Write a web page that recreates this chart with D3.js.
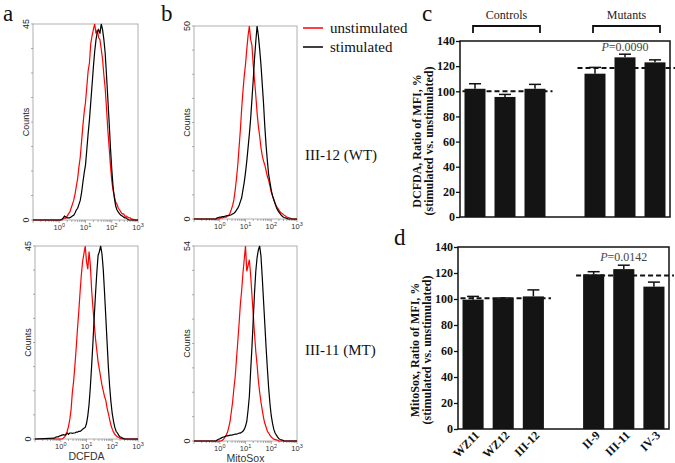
<!DOCTYPE html>
<html><head><meta charset="utf-8">
<script src="https://cdn.jsdelivr.net/npm/d3@7/dist/d3.min.js"></script>
<style>body{margin:0;background:#fff}svg{display:block}</style>
</head><body><svg id="fig" width="675" height="463"></svg>
<script>
// ---------- DATA ----------
// Flow-cytometry histograms: counts per log10 channel, channels from 10^-0.25 to 10^3 in steps of 0.05 decade
const binStartLog = -0.25, binStepLog = 0.05;
const dcfdaWT_unstim = [0,0,0,0,0,0,0, 0,0.2,0.5,0.4,0.9,1.4,1.8,2.7,3.6,4.5,5.9,7.7,9.5,12.2,14.4,18,21.6,24.8,27,30.6,34.2,36,40.5,42.3,43.7,45,42.8,43.7,41.9,41.4,39.2,36.9,33.3,30.2,25.7,20.7,16.7,12.6,9,6.8,5.4,4.1,3.6,2.7,2.3,1.8,1.4,1.4,0.9,0.9,0.7,0.5,0.5,0.2,0.2,0,0,0,0];
const dcfdaWT_stim = [0,0,0,0,0,0,0, 0.2,0.5,0.9,0.7,0.5,0.5,0.5,0.7,0.9,1.1,1.6,2.3,2.7,3.6,4.5,6.3,8.6,10.8,12.6,16.2,19.8,23,27,31,35.1,38.7,41.4,43.2,43.7,42.8,45,43.7,41.4,38.3,33.3,27.9,22.5,16.7,11.7,7.7,5,3.2,2.3,1.8,1.4,1.1,0.9,0.7,0.5,0.5,0.2,0,0,0,0,0,0,0,0];
const mitoWT_unstim = [0,0,0,0,0, 0.2,0.3,0.3,0.4,0.5,0.5,0.8,1,1.5,2.5,3.5,5,7.5,10.5,14,18.5,23,28.5,33,37,40,44,47.5,50,46.5,45,40,36,32,27.5,24,21.5,18.5,16.5,15,14,12.5,11,10,8.5,7,6,5,4,3.3,2.8,2.3,1.8,1.5,1.3,1,0.8,0.5,0.4,0.3,0.2,0,0,0,0,0];
const mitoWT_stim = [0,0,0, 0.3,0.4,0.5,0.5,0.6,0.6,0.7,0.8,0.9,0.9,1,1.1,1.3,1.5,1.8,2.3,2.8,3.5,4.5,5.5,7.5,9.5,12,15,18.5,22,26,31,36,41.5,46,50,47.5,44,40,35,30,24,19,15,11.5,9.5,7.5,6,5,4,3,2.3,1.8,1.3,0.9,0.6,0.4,0.3,0.2,0,0,0,0,0,0,0,0];
const dcfdaMT_unstim = [0,0,0,0,0,0,0, 0.2,0.5,0.9,1.8,2.9,4.5,6.8,10.8,13.5,17.1,21.2,25.7,29.7,34.2,38.3,41.4,43.2,45,41.4,39.6,43.7,40.5,34.7,30.6,27,23.4,20.7,18,16.2,14.4,12.6,11.3,9.9,9,7.2,5.9,4.5,3.2,2.3,1.6,1.1,0.8,0.5,0.4,0.2,0.1,0,0,0,0,0,0,0,0,0,0,0,0,0];
const dcfdaMT_stim = [0.2,0.4,0.5,0.5,0.7,0.8,0.9,1,0.9,1.1,1.4,1.1,1.4,1.4,1.3,1.4,1.4,1.6,1.6,1.8,1.8,2,2.3,2.5,2.7,3.6,5.4,8.1,12.2,17.1,22.5,28.4,33.8,38.7,42.8,43.7,45,43.2,39.6,34.2,28.4,22.5,16.7,12.2,8.6,5.9,4.1,2.7,1.8,1.4,0.9,0.5,0.4,0.2,0.1,0,0,0,0,0,0,0,0,0,0,0];
const mitoMT_unstim = [0,0,0,0,0,0,0, 0.2,0.5,1.1,1.6,2.4,3.8,5.4,8.1,10.8,14.6,17.8,22.7,27.5,32.4,37.8,41.6,46.4,50.2,54,47,48.6,50.2,45.9,40.5,35.1,29.7,24.8,21.1,16.7,13.5,10.8,8.6,6.5,4.9,3.8,2.7,2.2,1.6,1.1,0.8,0.5,0.4,0.3,0.2,0,0,0,0,0,0,0,0,0,0,0,0,0,0,0];
const mitoMT_stim = [0,0,0, 0.3,0.5,0.6,0.8,1,1.1,1.2,1.4,1.4,1.5,1.6,1.6,1.7,1.8,1.9,1.9,2,2.2,2.2,2.4,2.7,3.2,4.1,5.4,8.6,12.4,19.4,25.9,33.5,41,47,50.8,52.9,54,51.3,45.4,38.9,32.4,25.9,20,14.6,10.3,7,4.9,3.2,2.2,1.6,1.1,0.6,0.4,0.3,0.2,0,0,0,0,0,0,0,0,0,0,0];
const histYMax = [45, 50, 45, 54];           // a-top, b-top, a-bottom, b-bottom
const histXTickExponents = [0, 1, 2, 3];

// Bar charts
const controlNames = ["WZ11", "WZ12", "III-12"];
const mutantNames = ["II-9", "III-11", "IV-3"];
const dcfdaRatio = [102, 95.5, 102, 114, 127, 123];
const dcfdaErr = [4, 2, 3.5, 5, 2.5, 2];
const dcfdaGroupMeans = [100, 118.5];
const mitoRatio = [99.5, 100.5, 102, 119, 123, 109.5];
const mitoErr = [2.5, 0.3, 5, 2, 3, 3.5];
const mitoGroupMeans = [100.5, 118];
const barYTicks = [0, 20, 40, 60, 80, 100, 120, 140];
const pValues = ["0.0090", "0.0142"];

// ---------- DRAWING ----------
const svg = d3.select('#fig');
const SERIF = "'Liberation Serif','Times New Roman',serif";
const SANS = "'Liberation Sans',Arial,sans-serif";

function drawHist(p) {
  const x = d3.scaleLog().domain([0.1, 1000]).range([p.x0, p.x1]);
  const y = d3.scaleLinear().domain([0, p.ymax]).range([p.y1, p.y0]);
  const g = svg.append('g');
  g.append('rect').attr('x', p.x0).attr('y', p.y0).attr('width', p.x1 - p.x0).attr('height', p.y1 - p.y0)
    .attr('fill', 'none').attr('stroke', '#b0b0b0').attr('stroke-width', 1);
  const ticks = [];
  for (let d = -1; d <= 2; d++) for (let k = 1; k <= 9; k++) ticks.push({v: k * Math.pow(10, d), major: k === 1});
  ticks.push({v: 1000, major: true});
  g.selectAll('.xt').data(ticks).enter().append('line')
    .attr('x1', d => x(d.v)).attr('x2', d => x(d.v))
    .attr('y1', p.y1).attr('y2', d => p.y1 + (d.major ? 3 : 2))
    .attr('stroke', '#777').attr('stroke-width', 0.6);
  const xl = g.selectAll('.xl').data(histXTickExponents).enter().append('text')
    .attr('x', d => x(Math.pow(10, d))).attr('y', p.y1 + 10)
    .attr('text-anchor', 'middle').attr('font-family', SANS).attr('font-size', 7.5).attr('fill', '#333');
  xl.append('tspan').text('10');
  xl.append('tspan').attr('dy', -3).attr('font-size', 5.5).text(d => d);
  const yt = d3.range(0, 9).map(i => p.ymax * i / 8);
  g.selectAll('.yt').data(yt).enter().append('line')
    .attr('x1', p.x0 - 2).attr('x2', p.x0).attr('y1', d => y(d)).attr('y2', d => y(d))
    .attr('stroke', '#777').attr('stroke-width', 0.6);
  g.selectAll('.yl').data([0, p.ymax]).enter().append('text')
    .attr('transform', d => `translate(${p.x0 - 4},${y(d)}) rotate(-90)`)
    .attr('text-anchor', 'middle').attr('font-family', SANS).attr('font-size', 9).attr('fill', '#222')
    .text(d => d);
  g.append('text').attr('transform', `translate(${p.x0 - 4},${(p.y0 + p.y1) / 2}) rotate(-90)`)
    .attr('text-anchor', 'middle').attr('font-family', SANS).attr('font-size', 9).attr('fill', '#222').text('Counts');
  if (p.xlabel) {
    g.append('text').attr('x', (p.x0 + p.x1) / 2).attr('y', p.y1 + 21).attr('text-anchor', 'middle')
      .attr('font-family', SANS).attr('font-size', 10.5).attr('fill', '#333').text(p.xlabel);
  }
  const line = d3.line().x(d => x(Math.pow(10, d[0]))).y(d => y(d[1]));
  function pts(arr) {
    const a = [[-1, 0]];
    arr.forEach((c, i) => a.push([binStartLog + i * binStepLog, c]));
    a.push([3, 0]);
    return a;
  }
  g.append('path').attr('d', line(pts(p.red))).attr('fill', 'none').attr('stroke', '#ff0000').attr('stroke-width', 1.2);
  g.append('path').attr('d', line(pts(p.black))).attr('fill', 'none').attr('stroke', '#000').attr('stroke-width', 1.2);
}

drawHist({x0: 33, x1: 138, y0: 24, y1: 220, ymax: histYMax[0], red: dcfdaWT_unstim, black: dcfdaWT_stim});
drawHist({x0: 194, x1: 297, y0: 26, y1: 219, ymax: histYMax[1], red: mitoWT_unstim, black: mitoWT_stim});
drawHist({x0: 35, x1: 138, y0: 246, y1: 439, ymax: histYMax[2], red: dcfdaMT_unstim, black: dcfdaMT_stim, xlabel: 'DCFDA'});
drawHist({x0: 194, x1: 297, y0: 246, y1: 441, ymax: histYMax[3], red: mitoMT_unstim, black: mitoMT_stim, xlabel: 'MitoSox'});

function drawBars(p) {
  const names = [...controlNames, ...mutantNames];
  const slots = [...controlNames, ' ', ...mutantNames];
  const x = d3.scaleBand().domain(slots).range([p.x0, p.x1]).paddingInner(0.3).paddingOuter(0.15);
  const y = d3.scaleLinear().domain([0, 140]).range([p.y1, p.y0]);
  const g = svg.append('g');
  const bw = x.bandwidth();
  const grp = [
    {m: p.means[0], xa: x(controlNames[0]) - 2, xb: x(controlNames[2]) + bw + 7},
    {m: p.means[1], xa: x(mutantNames[0]) - 7, xb: p.x1 + 5}
  ];
  g.selectAll('.mean').data(grp).enter().append('line')
    .attr('x1', d => d.xa).attr('x2', d => d.xb).attr('y1', d => y(d.m)).attr('y2', d => y(d.m))
    .attr('stroke', '#111').attr('stroke-width', 2).attr('stroke-dasharray', '5,3');
  const data = names.map((n, i) => ({n, v: p.vals[i], e: p.errs[i]}));
  g.selectAll('.eb').data(data).enter().append('line')
    .attr('x1', d => x(d.n) + bw / 2).attr('x2', d => x(d.n) + bw / 2)
    .attr('y1', d => y(d.v)).attr('y2', d => y(d.v + d.e)).attr('stroke', '#111').attr('stroke-width', 1.5);
  g.selectAll('.cap').data(data).enter().append('line')
    .attr('x1', d => x(d.n) + bw / 2 - 6).attr('x2', d => x(d.n) + bw / 2 + 6)
    .attr('y1', d => y(d.v + d.e)).attr('y2', d => y(d.v + d.e)).attr('stroke', '#111').attr('stroke-width', 1.5);
  g.selectAll('.bar').data(data).enter().append('rect')
    .attr('x', d => x(d.n)).attr('width', bw).attr('y', d => y(d.v)).attr('height', d => y(0) - y(d.v))
    .attr('fill', '#141414');
  g.append('rect').attr('x', p.x0).attr('y', p.y0).attr('width', p.x1 - p.x0).attr('height', p.y1 - p.y0)
    .attr('fill', 'none').attr('stroke', '#111').attr('stroke-width', 1.5);
  const ax = g.append('g').attr('transform', `translate(${p.x0},0)`)
    .call(d3.axisLeft(y).tickValues(barYTicks).tickSize(4).tickSizeOuter(0).tickPadding(1));
  ax.select('.domain').remove();
  ax.selectAll('line').attr('stroke', '#111').attr('stroke-width', 1.3);
  ax.selectAll('text').attr('font-family', SERIF).attr('font-weight', 'bold').attr('font-size', 12).attr('fill', '#111');
  const yl = g.append('text').attr('transform', `translate(${p.x0 - 39},${(p.y0 + p.y1) / 2 + 12}) rotate(-90)`)
    .attr('text-anchor', 'middle').attr('font-family', SERIF).attr('font-weight', 'bold').attr('font-size', 12).attr('fill', '#111');
  yl.append('tspan').attr('x', 0).attr('dy', 0).text(p.ylabel);
  yl.append('tspan').attr('x', 0).attr('dy', 11.5).text('(stimulated vs. unstimulated)');
  const pt = g.append('text').attr('x', x(mutantNames[1]) + bw / 2).attr('y', y(p.pAt))
    .attr('text-anchor', 'middle').attr('font-family', SERIF).attr('font-size', 12).attr('fill', '#444');
  pt.append('tspan').attr('font-style', 'italic').text('P');
  pt.append('tspan').text('=' + p.pval);
  if (p.brackets) {
    const br = [controlNames, mutantNames].map((grpN, i) => ({
      a: x(grpN[0]) + bw / 2 - 2, b: x(grpN[2]) + bw / 2 + 5, label: i === 0 ? 'Controls' : 'Mutants'}));
    br.forEach(b => {
      g.append('path').attr('d', `M${b.a},${p.y0 - 8}V${p.y0 - 15}H${b.b}V${p.y0 - 8}`)
        .attr('fill', 'none').attr('stroke', '#111').attr('stroke-width', 1.8);
      g.append('text').attr('x', (b.a + b.b) / 2).attr('y', p.y0 - 22).attr('text-anchor', 'middle')
        .attr('font-family', SERIF).attr('font-size', 12).attr('fill', '#222').text(b.label);
    });
  }
  if (p.xlabels) {
    g.selectAll('.xl').data(names).enter().append('text')
      .attr('transform', d => `translate(${x(d) + bw / 2 + 7},${p.y1 + 7}) rotate(-45)`)
      .attr('text-anchor', 'end').attr('font-family', SERIF).attr('font-weight', 'bold').attr('font-size', 12)
      .attr('fill', '#111').text(d => d);
  }
}

drawBars({x0: 460, x1: 670, y0: 41, y1: 217, vals: dcfdaRatio, errs: dcfdaErr, means: dcfdaGroupMeans,
  ylabel: 'DCFDA, Ratio of MFI, %', pval: pValues[0], pAt: 132, brackets: true});
drawBars({x0: 458, x1: 669, y0: 247, y1: 429, vals: mitoRatio, errs: mitoErr, means: mitoGroupMeans,
  ylabel: 'MitoSox, Ratio of MFI, %', pval: pValues[1], pAt: 129, xlabels: true});

const legend = [{label: 'unstimulated', color: '#ff0000'}, {label: 'stimulated', color: '#000'}];
legend.forEach((l, i) => {
  svg.append('line').attr('x1', 303).attr('x2', 323).attr('y1', 28 + i * 19).attr('y2', 28 + i * 19)
    .attr('stroke', l.color).attr('stroke-width', 1.5);
  svg.append('text').attr('x', 330).attr('y', 33 + i * 19).attr('font-family', SERIF).attr('font-size', 15)
    .attr('fill', '#111').text(l.label);
});
[['III-12 (WT)', 160], ['III-11 (MT)', 355]].forEach(s => {
  svg.append('text').attr('x', 305).attr('y', s[1]).attr('font-family', SERIF).attr('font-size', 15)
    .attr('fill', '#111').text(s[0]);
});
[['a', 3, 21], ['b', 161, 21], ['c', 422, 21], ['d', 394, 245]].forEach(l => {
  svg.append('text').attr('x', l[1]).attr('y', l[2]).attr('font-family', SERIF).attr('font-size', 23)
    .attr('fill', '#111').text(l[0]);
});
</script>
</body></html>
